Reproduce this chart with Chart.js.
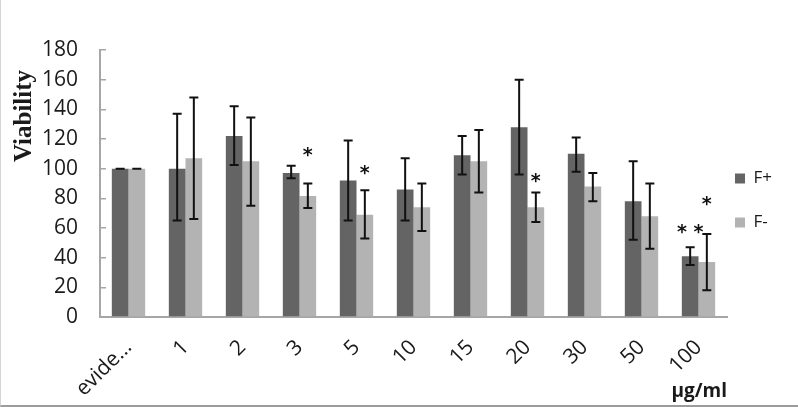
<!DOCTYPE html>
<html>
<head>
<meta charset="utf-8">
<script src="https://cdn.jsdelivr.net/npm/chart.js@4.4.0/dist/chart.umd.min.js"></script>
<style>
    html, body { margin: 0; padding: 0; background: #fff; }
    #wrap { position: relative; width: 798px; height: 407px; }
    #frame { position: absolute; left: 0; top: 0; width: 797px; height: 405px;
             border-left: 1px solid #d4d4d4; border-bottom: 2px solid #9c9c9c; pointer-events: none; }
</style>
</head>
<body>
<div id="wrap">
    <canvas id="viabilityChart" width="798" height="407"></canvas>
    <div id="frame"></div>
</div>
<script>
// concentrations (µg/ml)
const labels = ['evide...', '1', '2', '3', '5', '10', '15', '20', '30', '50', '100'];

// F+ means and error range
const fPlus = [100, 100, 122, 97, 92, 86, 109, 128, 110, 78, 41];
const fPlusLow = [100, 65, 102.5, 93.5, 65, 65, 96, 96, 98, 52, 35];
const fPlusHigh = [100, 137, 142, 102, 119, 107, 122, 160, 121, 105, 47];

// F- means and error range
const fMinus = [100, 107, 105, 81.5, 69, 74, 105, 74, 88, 68, 37];
const fMinusLow = [100, 66, 75, 73.5, 53, 58, 84, 64, 78, 46, 18];
const fMinusHigh = [100, 148, 134.5, 90, 85.5, 90, 126, 84, 97, 90, 56];

// significance marks and the value they sit at
const fPlusStars = ['', '', '', '', '', '', '', '', '', '', '**'];
const fPlusStarAt = [0, 0, 0, 0, 0, 0, 0, 0, 0, 0, 60];
const fMinusStars = ['', '', '', '*', '*', '', '', '*', '', '', '*'];
const fMinusStarAt = [0, 0, 0, 112, 100, 0, 0, 94.5, 0, 0, 79];

const yTicks = [0, 20, 40, 60, 80, 100, 120, 140, 160, 180];

const textColor = '#1a1a1a';
const axisColor = '#a6a6a6';
const tickFont = { family: 'Open Sans', size: 21 };

// error bars + asterisks
const errorBars = {
    id: 'errorBars',
    afterDatasetsDraw(chart) {
        const ctx = chart.ctx;
        const yScale = chart.scales.y;
        ctx.save();
        chart.data.datasets.forEach((ds, d) => {
            const meta = chart.getDatasetMeta(d);
            meta.data.forEach((bar, i) => {
                const top = yScale.getPixelForValue(ds.errHigh[i]);
                const bottom = yScale.getPixelForValue(ds.errLow[i]);
                ctx.strokeStyle = '#111';
                ctx.lineWidth = 2;
                ctx.beginPath();
                ctx.moveTo(bar.x, top);
                ctx.lineTo(bar.x, bottom);
                ctx.moveTo(bar.x - 4.5, top);
                ctx.lineTo(bar.x + 4.5, top);
                ctx.moveTo(bar.x - 4.5, bottom);
                ctx.lineTo(bar.x + 4.5, bottom);
                ctx.stroke();

                if (ds.stars[i]) {
                    ctx.fillStyle = '#111';
                    ctx.font = 'bold 19px "DejaVu Sans"';
                    ctx.textAlign = 'center';
                    ctx.textBaseline = 'middle';
                    ctx.fillText(ds.stars[i].split('').join(' '), bar.x, yScale.getPixelForValue(ds.starAt[i]) + 5);
                }
            });
        });
        ctx.restore();
    }
};

// y axis title sits above the middle in the original
const yTitle = {
    id: 'yTitle',
    afterDraw(chart) {
        const ctx = chart.ctx;
        ctx.save();
        ctx.translate(25, 116);
        ctx.rotate(-Math.PI / 2);
        ctx.font = 'bold 25px "Liberation Serif", "Times New Roman", serif';
        ctx.fillStyle = textColor;
        ctx.textAlign = 'center';
        ctx.textBaseline = 'middle';
        ctx.fillText('Viability', 0, 0);
        ctx.restore();
    }
};

// pull the legend a bit closer to the plot
const legendShift = {
    id: 'legendShift',
    afterLayout(chart) {
        const l = chart.legend;
        l.left -= 19;
        l.right -= 19;
        l.top -= 28;
        l.bottom -= 28;
    }
};

const ctx = document.getElementById('viabilityChart').getContext('2d');

const myChart = new Chart(ctx, {
    type: 'bar',
    data: {
        labels: labels,
        datasets: [
            {
                label: 'F+',
                data: fPlus,
                errLow: fPlusLow,
                errHigh: fPlusHigh,
                stars: fPlusStars,
                starAt: fPlusStarAt,
                backgroundColor: '#646464',
                categoryPercentage: 0.585,
                barPercentage: 1.0,
            },
            {
                label: 'F-',
                data: fMinus,
                errLow: fMinusLow,
                errHigh: fMinusHigh,
                stars: fMinusStars,
                starAt: fMinusStarAt,
                backgroundColor: '#b3b3b3',
                categoryPercentage: 0.585,
                barPercentage: 1.0,
            },
        ],
    },
    options: {
        responsive: false,
        animation: false,
        layout: { padding: { top: 50 } },
        plugins: {
            legend: {
                position: 'right',
                maxWidth: 71,
                labels: {
                    boxWidth: 10,
                    boxHeight: 10,
                    padding: 27,
                    color: textColor,
                    font: { family: 'Open Sans', size: 17 },
                },
            },
            tooltip: { enabled: false },
        },
        scales: {
            x: {
                grid: { display: false },
                border: { color: axisColor, width: 2 },
                ticks: {
                    autoSkip: false,
                    maxRotation: 45,
                    minRotation: 45,
                    padding: 10,
                    color: textColor,
                    font: tickFont,
                },
                title: {
                    display: true,
                    text: 'μg/ml',
                    align: 'end',
                    color: textColor,
                    font: { family: 'Open Sans', size: 19, weight: 'bold' },
                    padding: { top: 0, bottom: 4 },
                },
                afterFit(scale) { scale.height = 90; },
            },
            y: {
                min: 0,
                max: 180,
                afterBuildTicks(scale) { scale.ticks = yTicks.map(v => ({ value: v })); },
                ticks: { padding: 28, color: textColor, font: tickFont },
                grid: { drawOnChartArea: false, tickLength: -6, color: axisColor, lineWidth: 1.5 },
                border: { color: axisColor, width: 2 },
                afterFit(scale) { scale.width = 100; },
            },
        },
    },
    plugins: [errorBars, yTitle, legendShift],
});
</script>
</body>
</html>
